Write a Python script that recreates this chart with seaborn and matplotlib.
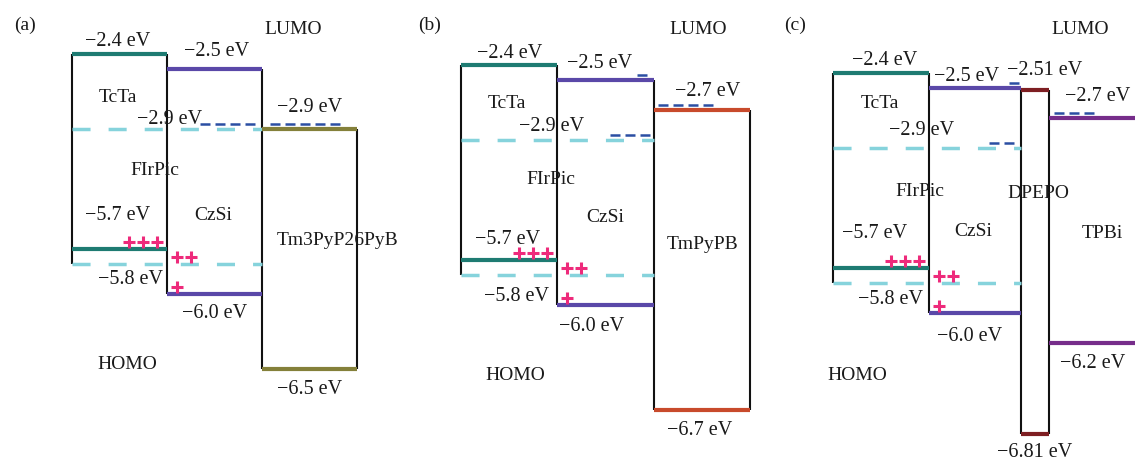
import numpy as np
import matplotlib
matplotlib.use("Agg")
import matplotlib.pyplot as plt
import matplotlib.transforms as mtransforms
import seaborn as sns

#%% style
sns.set_theme(style="white")
plt.rcParams['font.family'] = ['Liberation Serif', 'DejaVu Serif']

#%% energy levels (eV)
layers_a = ["TcTa", "CzSi", "Tm3PyP26PyB"]
lumo_a = [-2.4, -2.5, -2.9]
homo_a = [-5.7, -6.0, -6.5]

layers_b = ["TcTa", "CzSi", "TmPyPB"]
lumo_b = [-2.4, -2.5, -2.7]
homo_b = [-5.7, -6.0, -6.7]

layers_c = ["TcTa", "CzSi", "DPEPO", "TPBi"]
lumo_c = [-2.4, -2.5, -2.51, -2.7]
homo_c = [-5.7, -6.0, -6.81, -6.2]

dopant = "FIrPic"
dopant_lumo = -2.9
dopant_homo = -5.8

#%% figure / colours
W, H = 1135, 460
PX_PER_EV = 150
fig = plt.figure(figsize=(W / 100, H / 100), dpi=100)
fig.patch.set_facecolor("white")

teal = "#1e7b72"
purple = "#5a48a8"
olive = "#84803a"
red = "#c84a2c"
darkred = "#7e1e22"
violet = "#762d8a"
cyan = "#86d3dc"
eblue = "#2b4ea3"
pink = "#ee2a7b"
txt = "#1a1a1a"


# broken energy axis: the gap between -2.9 and -5.7 eV is squeezed
def fwd(e):
    return np.interp(e, [-20, -5.7, -2.9, 0], [-18.0, -3.7, -2.9, 0])


def inv(u):
    return np.interp(u, [-18.0, -3.7, -2.9, 0], [-20, -5.7, -2.9, 0])


def fmt(v):
    s = f"{abs(v):.2f}"
    if s.endswith("0"):
        s = s[:-1]
    return "\u2212" + s + " eV"


def draw_panel(ax, layers, lumo, homo, cfg):
    ax.set_xlim(0, W)
    ax.set_yscale("function", functions=(fwd, inv))
    top = cfg["top"]
    ax.set_ylim(inv(top - H / PX_PER_EV), inv(top))
    ax.axis("off")
    ax.patch.set_alpha(0)

    widths = cfg["widths"]
    edges = cfg["origin"] + np.concatenate([[0], np.cumsum(widths)])
    n = len(layers)

    # box edges
    for k in range(n + 1):
        if k == 0:
            y0, y1 = lumo[0], min(homo[0], dopant_homo)
        elif k == n:
            y0, y1 = lumo[-1], homo[-1]
        else:
            y0, y1 = max(lumo[k - 1], lumo[k]), min(homo[k - 1], homo[k])
        ax.vlines(edges[k], y1, y0, colors="#111111", lw=1.5, zorder=1)

    # levels
    ax.hlines(lumo, edges[:-1], edges[1:], colors=cfg["colors"], lw=3, zorder=3)
    ax.hlines(homo, edges[:-1], edges[1:], colors=cfg["colors"], lw=3, zorder=3)

    # dopant levels
    ax.hlines([dopant_lumo, dopant_homo], edges[0], edges[2], colors=cyan,
              linestyles=[(0, (5.2, 5.2))], lw=2.5, zorder=2)

    # electrons
    up5 = mtransforms.offset_copy(ax.transData, fig=fig, y=5, units="dots")
    for e, li, f0, f1 in cfg["electrons"]:
        x0 = edges[li] + f0 * widths[li]
        x1 = edges[li] + f1 * widths[li]
        ax.plot([x0, x1], [e, e], color=eblue, lw=1.8, ls=(0, (4, 2)),
                solid_capstyle="butt", transform=up5, zorder=4)

    # holes
    up7 = mtransforms.offset_copy(ax.transData, fig=fig, y=7, units="dots")
    hx = [edges[1] - 10 - 14 * np.arange(3)[::-1],
          edges[1] + 10 + 14 * np.arange(2),
          edges[1] + 10 + 14 * np.arange(1)]
    hy = [homo[0], dopant_homo, homo[1]]
    for xs, y in zip(hx, hy):
        ax.scatter(xs, [y] * len(xs), marker="+", s=80, linewidths=2.2,
                   color=pink, transform=up7, zorder=5)

    # energy labels
    for e, x, dy in cfg["elabels"]:
        ax.annotate(fmt(e), xy=(x, e), xytext=(0, dy), textcoords="offset pixels",
                    ha="center", va="center", fontsize=14.5, color=txt)

    # names
    for s, x, y in cfg["names"]:
        fig.text(x / W, 1 - y / H, s, ha="center", va="center",
                 fontsize=14, color=txt)


#%% panels
cfg_a = dict(
    origin=72, widths=[95, 95, 95], top=-2.4 + 55 / PX_PER_EV,
    colors=[teal, purple, olive],
    electrons=[(dopant_lumo, 1, 0.35, 0.93), (lumo_a[2], 2, 0.08, 0.84)],
    elabels=[(lumo_a[0], 118, 13), (lumo_a[1], 217, 18), (dopant_lumo, 170, 10),
             (lumo_a[2], 310, 22), (homo_a[0], 118, 34), (dopant_homo, 130, -14),
             (homo_a[1], 215, -19), (homo_a[2], 310, -20)],
    names=[("(a)", 25, 25), ("LUMO", 293, 30), ("TcTa", 118, 98),
           (dopant, 155, 171), ("CzSi", 213, 215), ("Tm3PyP26PyB", 338, 241),
           ("HOMO", 127, 365)],
)

cfg_b = dict(
    origin=461, widths=[96, 97, 96], top=-2.4 + 66 / PX_PER_EV,
    colors=[teal, purple, red],
    electrons=[(lumo_b[1], 1, 0.82, 0.96), (dopant_lumo, 1, 0.55, 0.97),
               (lumo_b[2], 2, 0.04, 0.64)],
    elabels=[(lumo_b[0], 510, 13), (lumo_b[1], 600, 18), (lumo_b[2], 708, 19),
             (dopant_lumo, 552, 14), (homo_b[0], 508, 21), (dopant_homo, 517, -20),
             (homo_b[1], 592, -21), (homo_b[2], 700, -20)],
    names=[("(b)", 430, 25), ("LUMO", 698, 30), ("TcTa", 507, 104),
           (dopant, 551, 180), ("CzSi", 605, 217), ("TmPyPB", 703, 245),
           ("HOMO", 515, 376)],
)

cfg_c = dict(
    origin=833, widths=[96, 92, 28, 100], top=-2.4 + 74 / PX_PER_EV,
    colors=[teal, purple, darkred, violet],
    electrons=[(lumo_c[1], 1, 0.87, 0.99), (dopant_lumo, 1, 0.65, 0.97),
               (lumo_c[3], 3, 0.05, 0.48)],
    elabels=[(lumo_c[0], 885, 14), (lumo_c[1], 967, 13), (lumo_c[2], 1045, 20),
             (lumo_c[3], 1098, 23), (dopant_lumo, 922, 19), (homo_c[0], 875, 36),
             (dopant_homo, 890, -15), (homo_c[1], 970, -22), (homo_c[3], 1093, -20),
             (homo_c[2], 1035, -17)],
    names=[("(c)", 795, 25), ("LUMO", 1080, 30), ("TcTa", 880, 104),
           (dopant, 920, 192), ("DPEPO", 1038, 194), ("CzSi", 973, 232),
           ("TPBi", 1102, 234), ("HOMO", 857, 376)],
)

for lab, layers, lumo, homo, cfg in [("a", layers_a, lumo_a, homo_a, cfg_a),
                                     ("b", layers_b, lumo_b, homo_b, cfg_b),
                                     ("c", layers_c, lumo_c, homo_c, cfg_c)]:
    ax = fig.add_axes([0, 0, 1, 1], label=lab)
    draw_panel(ax, layers, lumo, homo, cfg)

fig.savefig("out.png", dpi=100)
